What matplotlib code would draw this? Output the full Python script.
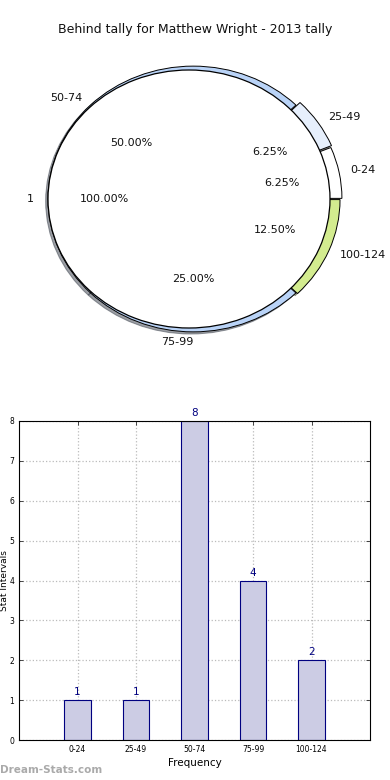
import matplotlib
matplotlib.use("Agg")
import matplotlib.pyplot as plt

title = "Behind tally for Matthew Wright - 2013 tally"
categories = ["0-24", "25-49", "50-74", "75-99", "100-124"]
counts = [1, 1, 8, 4, 2]
pie_colors = ["#ffffff", "#e6effc", "#b9d3f7", "#b9d3f7", "#d3ec8f"]
explode = [0.025, 0.035, 0.0, 0.0, 0.012]
inner_labels = ["1"]
inner_values = [1]

W, H = 390, 780
fig = plt.figure(figsize=(W / 100, H / 100), dpi=100)

# ---- pie axes ----
top_px, bot_px = 50, 360
axp = fig.add_axes([0, (H - bot_px) / H, 1, (bot_px - top_px) / H])
cx, cy, sx, sy = 189, 199, 141, 129

wedges, texts, autotexts = axp.pie(
    counts, labels=categories, colors=pie_colors, explode=explode,
    radius=1.03, center=(0.03, 0), startangle=0, counterclock=True,
    shadow={"ox": -0.012, "oy": -0.012},
    autopct="%.2f%%", pctdistance=0.6, labeldistance=1.08,
    wedgeprops=dict(edgecolor="black", linewidth=0.7),
    textprops=dict(fontsize=8, color="#111111"))
texts[3].set_ha("right")
w2, t2, a2 = axp.pie(
    inner_values, labels=inner_labels, colors=["white"], radius=1.0,
    startangle=0, autopct="%.2f%%", pctdistance=0.6, labeldistance=1.1,
    wedgeprops=dict(edgecolor="black", linewidth=0.9),
    textprops=dict(fontsize=8, color="#111111"))
axp.set_aspect("auto")
axp.set_xlim(-cx / sx, (W - cx) / sx)
axp.set_ylim((cy - bot_px) / sy, (cy - top_px) / sy)
axp.axis("off")

fig.text(195 / W, 1 - 30 / H, title, ha="center", va="center", fontsize=9, color="#111111")

# ---- bar axes ----
axb = fig.add_axes([19 / W, (H - 740) / H, 351 / W, 319 / H])
x = list(range(len(categories)))
axb.bar(x, counts, width=0.45, color="#ccccE4", edgecolor="#000080", linewidth=0.8, zorder=2)
for xi, v in zip(x, counts):
    axb.text(xi, v + 0.07, str(v), ha="center", va="bottom", fontsize=7.5, color="#000080")
axb.set_xlim(-1, 5)
axb.set_ylim(0, 8)
axb.set_xticks(x)
axb.set_xticklabels(categories)
axb.set_yticks(range(0, 9))
axb.tick_params(labelsize=5.5, direction="in", top=True, right=True, length=3, width=0.5)
axb.grid(True, linestyle=":", color="#bbbbbb", linewidth=0.9, zorder=0)
axb.set_axisbelow(True)
axb.set_xlabel("Frequency", fontsize=7.5, labelpad=3)
axb.set_ylabel("Stat Intervals", fontsize=6.5, va="center")
axb.yaxis.set_label_coords(-14 / 351, 0.5)
for s in axb.spines.values():
    s.set_linewidth(0.8)

fig.text(0, 5 / H, "Dream-Stats.com", ha="left", va="bottom", fontsize=7.5, color="#aaaaaa", fontweight="bold")

fig.savefig("out.png", dpi=100)
